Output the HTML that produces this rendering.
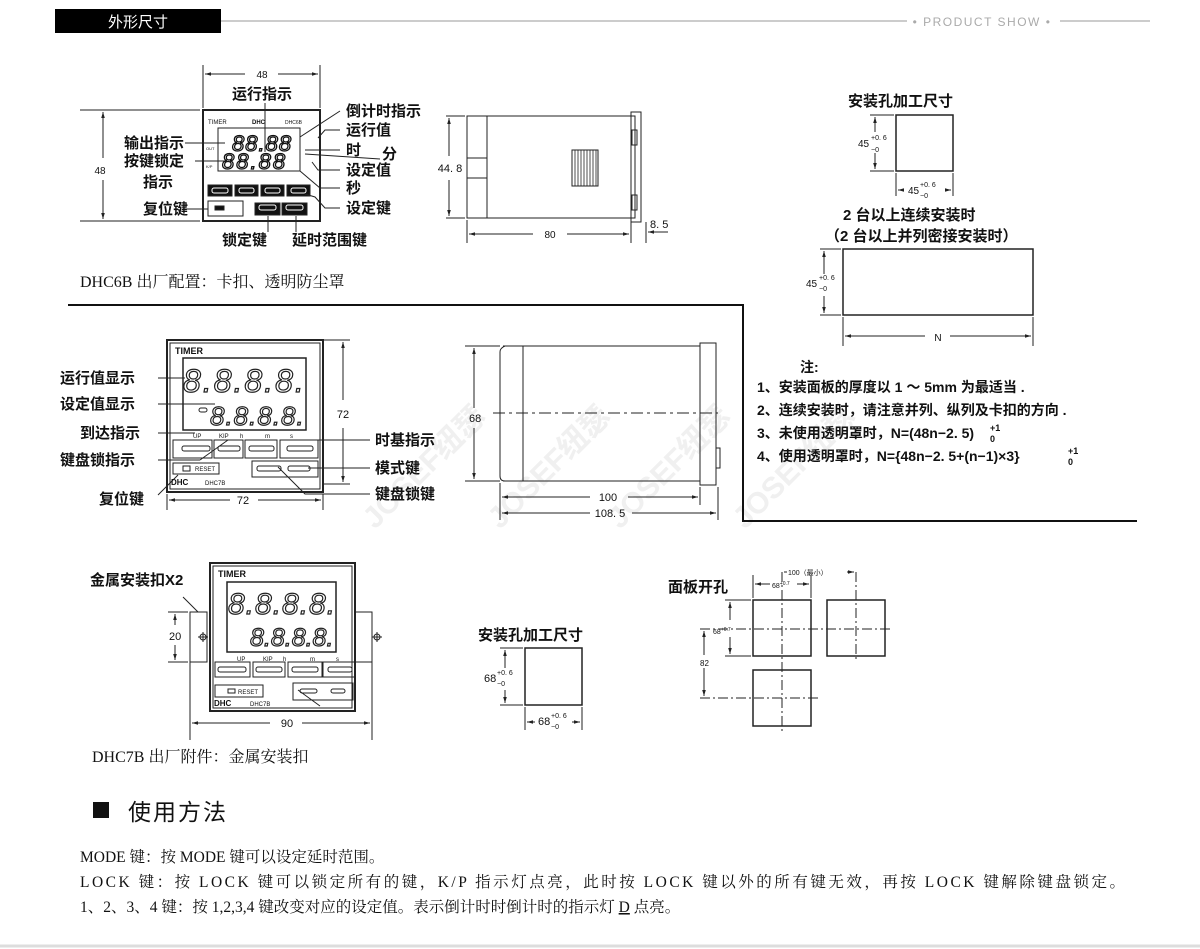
<!DOCTYPE html>
<html><head><meta charset="utf-8"><style>
html,body{margin:0;padding:0;background:#fff;}
svg{display:block;}
.z{font-family:"Liberation Sans","Noto Sans CJK SC",sans-serif;fill:#111;}
.b{font-weight:bold;}
.s{font-family:"Liberation Serif","Noto Serif CJK SC",serif;fill:#111;}
</style></head><body>
<svg width="1200" height="949" viewBox="0 0 1200 949" xmlns="http://www.w3.org/2000/svg">
<defs>
<marker id="a" viewBox="0 0 10 10" refX="10" refY="5" markerWidth="6" markerHeight="6" orient="auto-start-reverse"><path d="M0,2 L10,5 L0,8z" fill="#222"/></marker>
</defs>
<rect x="55" y="9" width="166" height="24" fill="#000"/>
<text x="138" y="27" text-anchor="middle" class="z" style="fill:#fff;font-size:15px">外形尺寸</text>
<line x1="221" y1="21" x2="907" y2="21" stroke="#bbb" stroke-width="1.5"/>
<text x="982" y="26" text-anchor="middle" class="z" style="fill:#aaa;font-size:12px;letter-spacing:1.5px">• PRODUCT SHOW •</text>
<line x1="1060" y1="21" x2="1150" y2="21" stroke="#bbb" stroke-width="1.5"/>

<g class="z" style="fill:#f0f0f0;font-size:30px;font-weight:bold">
<text transform="translate(375,530) rotate(-45)">JOSEF纽瑟</text>
<text transform="translate(500,530) rotate(-45)">JOSEF纽瑟</text>
<text transform="translate(620,530) rotate(-45)">JOSEF纽瑟</text>
<text transform="translate(745,530) rotate(-45)">JOSEF纽瑟</text>
</g>

<g stroke="#222" fill="none" stroke-width="1">
<rect x="203" y="110" width="117" height="111" stroke-width="2"/>
<rect x="218" y="128" width="82" height="43"/>
<line x1="203" y1="65" x2="203" y2="108"/><line x1="320" y1="65" x2="320" y2="108"/>
<line x1="205" y1="74" x2="245" y2="74" marker-start="url(#a)"/><line x1="278" y1="74" x2="318" y2="74" marker-end="url(#a)"/>
<line x1="80" y1="110" x2="200" y2="110"/><line x1="80" y1="221" x2="200" y2="221"/>
<line x1="103" y1="112" x2="103" y2="158" marker-start="url(#a)"/><line x1="103" y1="180" x2="103" y2="219" marker-end="url(#a)"/>
<g fill="#111"><rect x="208" y="185" width="24" height="11"/><rect x="235" y="185" width="23" height="11"/><rect x="261" y="185" width="23" height="11"/><rect x="287" y="185" width="23" height="11"/>
<rect x="255" y="203" width="25" height="12"/><rect x="282" y="203" width="25" height="12"/></g>
<g stroke="#fff"><rect x="212" y="188" width="16" height="5" rx="2"/><rect x="239" y="188" width="15" height="5" rx="2"/><rect x="265" y="188" width="15" height="5" rx="2"/><rect x="291" y="188" width="15" height="5" rx="2"/><rect x="259" y="205" width="17" height="5" rx="2"/><rect x="286" y="205" width="17" height="5" rx="2"/></g>
<rect x="208" y="201" width="35" height="15"/><rect x="215" y="206" width="9" height="4" fill="#111"/>
<line x1="185" y1="143" x2="225" y2="143"/><line x1="195" y1="161" x2="225" y2="161"/><line x1="183" y1="209" x2="208" y2="209"/>
<line x1="265" y1="103" x2="265" y2="152"/>
<path d="M340,111 L300,137"/><path d="M340,130 L325,130 L318,138"/><path d="M340,150 L305,150"/><path d="M380,159 L305,154"/><path d="M340,170 L318,170 L312,162"/><path d="M340,188 L320,188 L300,171"/><path d="M340,208 L325,208 L315,197 L305,194"/>
<line x1="268" y1="216" x2="268" y2="232"/><line x1="296" y1="216" x2="296" y2="232"/>
<rect x="467" y="116" width="168" height="102"/><line x1="487" y1="116" x2="487" y2="218"/><rect x="467" y="158" width="20" height="20"/>
<rect x="631" y="112" width="10" height="110"/><rect x="632" y="130" width="5" height="15"/><rect x="632" y="195" width="5" height="15"/>
<rect x="572" y="150" width="26" height="36" fill="#fff"/>
<g stroke-width="0.8"><line x1="575" y1="150" x2="575" y2="186"/><line x1="578" y1="150" x2="578" y2="186"/><line x1="581" y1="150" x2="581" y2="186"/><line x1="584" y1="150" x2="584" y2="186"/><line x1="587" y1="150" x2="587" y2="186"/><line x1="590" y1="150" x2="590" y2="186"/><line x1="593" y1="150" x2="593" y2="186"/><line x1="596" y1="150" x2="596" y2="186"/></g>
<line x1="446" y1="116" x2="465" y2="116"/><line x1="446" y1="218" x2="465" y2="218"/>
<line x1="449" y1="118" x2="449" y2="156" marker-start="url(#a)"/><line x1="449" y1="180" x2="449" y2="216" marker-end="url(#a)"/>
<line x1="467" y1="220" x2="467" y2="243"/><line x1="631" y1="222" x2="631" y2="243"/><line x1="646" y1="222" x2="646" y2="243"/>
<line x1="469" y1="234" x2="533" y2="234" marker-start="url(#a)"/><line x1="567" y1="234" x2="629" y2="234" marker-end="url(#a)"/>
<line x1="668" y1="232" x2="648" y2="232" marker-end="url(#a)"/>
<rect x="896" y="115" width="57" height="56" stroke-width="1.5"/>
<line x1="870" y1="115" x2="894" y2="115"/><line x1="870" y1="171" x2="894" y2="171"/>
<line x1="875" y1="117" x2="875" y2="132" marker-start="url(#a)"/><line x1="875" y1="153" x2="875" y2="169" marker-end="url(#a)"/>
<line x1="896" y1="173" x2="896" y2="196"/><line x1="953" y1="173" x2="953" y2="196"/>
<line x1="898" y1="190" x2="904" y2="190" marker-start="url(#a)"/><line x1="945" y1="190" x2="951" y2="190" marker-end="url(#a)"/>
<rect x="843" y="249" width="190" height="66" stroke-width="1.5"/>
<line x1="820" y1="249" x2="841" y2="249"/><line x1="820" y1="315" x2="841" y2="315"/>
<line x1="824" y1="251" x2="824" y2="274" marker-start="url(#a)"/><line x1="824" y1="296" x2="824" y2="313" marker-end="url(#a)"/>
<line x1="843" y1="317" x2="843" y2="346"/><line x1="1033" y1="317" x2="1033" y2="346"/>
<line x1="845" y1="336" x2="925" y2="336" marker-start="url(#a)"/><line x1="950" y1="336" x2="1031" y2="336" marker-end="url(#a)"/>
</g>
<path d="M68,305 L743,305 L743,521 L1137,521" stroke="#111" stroke-width="2" fill="none"/>

<g class="z" style="font-size:10px">
<text x="262" y="78" text-anchor="middle">48</text>
<text x="100" y="174" text-anchor="middle">48</text>
<text x="450" y="172" text-anchor="middle" style="font-size:11px">44. 8</text>
<text x="550" y="238" text-anchor="middle">80</text>
<text x="650" y="228" style="font-size:11px">8. 5</text>
<text x="208" y="124" style="font-size:6px">TIMER</text><text x="252" y="124" style="font-size:6px;font-weight:bold">DHC</text><text x="285" y="124" style="font-size:5px">DHC6B</text>
<text x="206" y="150" style="font-size:4px">OUT</text><text x="206" y="168" style="font-size:4px">K/P</text>
</g>
<g class="z" style="font-size:22px;font-style:italic;fill:#fff;stroke:#111;stroke-width:1.3">
<text x="232" y="151" style="letter-spacing:1px">88.88</text><text x="222" y="169" style="letter-spacing:2px">88.88</text>
</g>
<g class="z b" style="font-size:15px">
<text x="262" y="99" text-anchor="middle">运行指示</text>
<text x="346" y="116">倒计时指示</text><text x="346" y="135">运行值</text><text x="346" y="155">时</text><text x="382" y="159">分</text><text x="346" y="175">设定值</text><text x="346" y="193">秒</text><text x="346" y="213">设定键</text>
<text x="124" y="148">输出指示</text><text x="124" y="166">按键锁定</text><text x="143" y="187">指示</text><text x="143" y="214">复位键</text>
<text x="222" y="245">锁定键</text><text x="292" y="245">延时范围键</text>
<text x="848" y="106">安装孔加工尺寸</text>
<text x="843" y="220">2 台以上连续安装时</text>
<text x="825" y="241">（2 台以上并列密接安装时）</text>
</g>
<g class="z" style="font-size:10px">
<text x="858" y="147">45</text><text x="871" y="140" style="font-size:7px">+0. 6</text><text x="871" y="152" style="font-size:7px">−0</text>
<text x="908" y="194">45</text><text x="920" y="187" style="font-size:7px">+0. 6</text><text x="920" y="198" style="font-size:7px">−0</text>
<text x="806" y="287">45</text><text x="819" y="280" style="font-size:7px">+0. 6</text><text x="819" y="291" style="font-size:7px">−0</text>
<text x="938" y="341" text-anchor="middle">N</text>
</g>
<text x="80" y="287" class="s" style="font-size:16px">DHC6B 出厂配置：卡扣、透明防尘罩</text>
<g class="z b" style="font-size:14px">
<text x="800" y="372">注:</text>
<text x="757" y="392">1、安装面板的厚度以 1 ～ 5mm 为最适当 .</text>
<text x="757" y="415">2、连续安装时，请注意并列、纵列及卡扣的方向 .</text>
<text x="757" y="438">3、未使用透明罩时，N=(48n−2. 5)</text><text x="990" y="442" style="font-size:9px">0</text><text x="990" y="431" style="font-size:9px">+1</text>
<text x="757" y="461">4、使用透明罩时，N={48n−2. 5+(n−1)×3}</text><text x="1068" y="465" style="font-size:9px">0</text><text x="1068" y="454" style="font-size:9px">+1</text>
</g>

<g stroke="#222" fill="none" stroke-width="1">
<rect x="167" y="340" width="156" height="152" stroke-width="2"/><rect x="170" y="343" width="150" height="146"/>
<rect x="183" y="358" width="123" height="72" stroke-width="1.5"/>
<rect x="173" y="440" width="39" height="18"/><rect x="214" y="440" width="29" height="18"/><rect x="245" y="440" width="32" height="18"/><rect x="280" y="440" width="38" height="18"/>
<rect x="252" y="461" width="66" height="16"/><rect x="173" y="463" width="46" height="11"/><rect x="183" y="466" width="7" height="5"/>
<rect x="182" y="446" width="28" height="5" rx="2"/><rect x="218" y="446" width="22" height="5" rx="2"/><rect x="249" y="446" width="25" height="5" rx="2"/><rect x="287" y="446" width="26" height="5" rx="2"/>
<rect x="257" y="466" width="24" height="5" rx="2"/><rect x="288" y="466" width="22" height="5" rx="2"/>
<rect x="199" y="408" width="8" height="4" rx="2"/>
<line x1="158" y1="378" x2="185" y2="378"/><line x1="158" y1="404" x2="215" y2="404"/><line x1="158" y1="433" x2="195" y2="433"/><line x1="158" y1="460" x2="200" y2="460"/><path d="M200,460 L228,440"/>
<path d="M158,495 L178,475"/><line x1="308" y1="440" x2="370" y2="440"/><line x1="308" y1="468" x2="370" y2="468"/><path d="M370,494 L305,494 L278,467"/>
<line x1="323" y1="340" x2="350" y2="340"/><line x1="323" y1="484" x2="350" y2="484"/>
<line x1="343" y1="342" x2="343" y2="400" marker-start="url(#a)"/><line x1="343" y1="428" x2="343" y2="482" marker-end="url(#a)"/>
<line x1="167" y1="494" x2="167" y2="510"/><line x1="323" y1="494" x2="323" y2="510"/>
<line x1="169" y1="500" x2="230" y2="500" marker-start="url(#a)"/><line x1="258" y1="500" x2="321" y2="500" marker-end="url(#a)"/>
<path d="M503,346 L700,346 M503,481 L700,481 M505,346 Q500,348 500,352 L500,476 Q500,481 505,481"/><line x1="523" y1="346" x2="523" y2="481"/>
<rect x="700" y="343" width="16" height="142"/><rect x="716" y="448" width="4" height="20"/>
<line x1="493" y1="413" x2="718" y2="413" stroke-dasharray="12,4,3,4"/>
<line x1="465" y1="346" x2="500" y2="346"/><line x1="465" y1="481" x2="500" y2="481"/>
<line x1="474" y1="348" x2="474" y2="408" marker-start="url(#a)"/><line x1="474" y1="428" x2="474" y2="479" marker-end="url(#a)"/>
<line x1="500" y1="483" x2="500" y2="520"/><line x1="700" y1="487" x2="700" y2="505"/><line x1="718" y1="487" x2="718" y2="520"/>
<line x1="502" y1="497" x2="590" y2="497" marker-start="url(#a)"/><line x1="628" y1="497" x2="698" y2="497" marker-end="url(#a)"/>
<line x1="502" y1="513" x2="590" y2="513" marker-start="url(#a)"/><line x1="632" y1="513" x2="716" y2="513" marker-end="url(#a)"/>
</g>
<g class="z" style="font-size:24px;font-style:italic;fill:#fff;stroke:#222;stroke-width:1.2">
<text x="183" y="392" style="font-size:32px;letter-spacing:2px">8.8.8.8.</text>
<text x="210" y="425" style="font-size:26px;letter-spacing:1px">8.8.8.8.</text>
</g>
<g class="z" style="font-size:6px">
<text x="175" y="354" style="font-size:9px;font-weight:bold">TIMER</text>
<text x="193" y="438">UP</text><text x="219" y="438">KIP</text><text x="240" y="438">h</text><text x="265" y="438">m</text><text x="290" y="438">s</text>
<text x="195" y="471">RESET</text><text x="171" y="485" style="font-weight:bold;font-size:8px">DHC</text><text x="205" y="485">DHC7B</text>
</g>
<g class="z b" style="font-size:15px">
<text x="60" y="383">运行值显示</text><text x="60" y="409">设定值显示</text><text x="80" y="438">到达指示</text><text x="60" y="465">键盘锁指示</text><text x="99" y="504">复位键</text>
<text x="375" y="445">时基指示</text><text x="375" y="473">模式键</text><text x="375" y="499">键盘锁键</text>
</g>
<g class="z" style="font-size:11px">
<text x="343" y="418" text-anchor="middle">72</text><text x="243" y="504" text-anchor="middle">72</text>
<text x="469" y="422">68</text><text x="608" y="501" text-anchor="middle">100</text><text x="610" y="517" text-anchor="middle">108. 5</text>
</g>

<g stroke="#222" fill="none" stroke-width="1">
<rect x="190" y="612" width="17" height="50"/><rect x="355" y="612" width="17" height="50"/>
<line x1="190" y1="662" x2="190" y2="740"/><line x1="372" y1="662" x2="372" y2="740"/>
<rect x="210" y="563" width="145" height="148" stroke-width="2"/><rect x="213" y="566" width="139" height="142"/>
<rect x="227" y="582" width="109" height="70" stroke-width="1.5"/>
<rect x="215" y="662" width="35" height="15"/><rect x="253" y="662" width="32" height="15"/><rect x="288" y="662" width="34" height="15"/><rect x="323" y="662" width="32" height="15"/>
<rect x="218" y="667" width="28" height="5" rx="2"/><rect x="256" y="667" width="26" height="5" rx="2"/><rect x="292" y="667" width="26" height="5" rx="2"/><rect x="328" y="667" width="24" height="5" rx="2"/>
<rect x="293" y="683" width="60" height="17"/><rect x="300" y="689" width="17" height="4" rx="2"/><rect x="331" y="689" width="14" height="4" rx="2"/>
<rect x="215" y="685" width="48" height="12"/><rect x="228" y="689" width="7" height="4"/>
<path d="M183,597 L198,612 M298,690 L320,706"/>
<line x1="168" y1="612" x2="188" y2="612"/><line x1="168" y1="662" x2="188" y2="662"/>
<line x1="175" y1="614" x2="175" y2="625" marker-start="url(#a)"/><line x1="175" y1="645" x2="175" y2="660" marker-end="url(#a)"/>
<line x1="192" y1="723" x2="270" y2="723" marker-start="url(#a)"/><line x1="302" y1="723" x2="370" y2="723" marker-end="url(#a)"/>
<circle cx="203" cy="637" r="3"/><path d="M198,637h10M203,632v10"/><circle cx="377" cy="637" r="3"/><path d="M372,637h10M377,632v10"/>
<rect x="525" y="648" width="57" height="57" stroke-width="1.5"/>
<line x1="500" y1="648" x2="523" y2="648"/><line x1="500" y1="705" x2="523" y2="705"/>
<line x1="505" y1="650" x2="505" y2="668" marker-start="url(#a)"/><line x1="505" y1="690" x2="505" y2="703" marker-end="url(#a)"/>
<line x1="525" y1="707" x2="525" y2="730"/><line x1="582" y1="707" x2="582" y2="730"/>
<line x1="527" y1="722" x2="535" y2="722" marker-start="url(#a)"/><line x1="572" y1="722" x2="580" y2="722" marker-end="url(#a)"/>
<rect x="753" y="600" width="58" height="56" stroke-width="1.5"/><rect x="827" y="600" width="58" height="56" stroke-width="1.5"/><rect x="753" y="670" width="58" height="56" stroke-width="1.5"/>
<g stroke-dasharray="10,3,2,3"><line x1="700" y1="629" x2="893" y2="629"/><line x1="700" y1="698" x2="820" y2="698"/><line x1="782" y1="572" x2="782" y2="733"/><line x1="856" y1="572" x2="856" y2="660"/></g>
<line x1="753" y1="575" x2="753" y2="598"/><line x1="811" y1="575" x2="811" y2="598"/>
<line x1="755" y1="584" x2="770" y2="584" marker-start="url(#a)"/><line x1="797" y1="584" x2="809" y2="584" marker-end="url(#a)"/>
<line x1="784" y1="572" x2="787" y2="572"/><line x1="847" y1="572" x2="854" y2="572" marker-end="url(#a)"/>
<line x1="725" y1="600" x2="751" y2="600"/><line x1="725" y1="656" x2="751" y2="656"/>
<line x1="730" y1="602" x2="730" y2="620" marker-start="url(#a)"/><line x1="730" y1="637" x2="730" y2="654" marker-end="url(#a)"/>
<line x1="704" y1="631" x2="704" y2="655" marker-start="url(#a)"/><line x1="704" y1="668" x2="704" y2="696" marker-end="url(#a)"/>
</g>
<g class="z" style="font-size:6px">
<text x="218" y="577" style="font-size:9px;font-weight:bold">TIMER</text>
<text x="237" y="661">UP</text><text x="263" y="661">KIP</text><text x="283" y="661">h</text><text x="310" y="661">m</text><text x="336" y="661">s</text>
<text x="238" y="694">RESET</text><text x="214" y="706" style="font-weight:bold;font-size:8px">DHC</text><text x="250" y="706">DHC7B</text>
</g>
<g class="z" style="font-size:23px;font-style:italic;fill:#fff;stroke:#222;stroke-width:1.2">
<text x="228" y="614" style="font-size:30px;letter-spacing:1px">8.8.8.8.</text>
<text x="250" y="646" style="font-size:25px">8.8.8.8.</text>
</g>
<g class="z" style="font-size:11px">
<text x="169" y="640">20</text><text x="287" y="727" text-anchor="middle">90</text>
<text x="484" y="682">68</text><text x="497" y="675" style="font-size:7px">+0. 6</text><text x="497" y="686" style="font-size:7px">−0</text>
<text x="538" y="725">68</text><text x="551" y="718" style="font-size:7px">+0. 6</text><text x="551" y="729" style="font-size:7px">−0</text>
<text x="772" y="588" style="font-size:7px">68<tspan dy="-3" style="font-size:5px">+0.7</tspan></text>
<text x="788" y="575" style="font-size:7px">100（最小）</text>
<text x="713" y="634" style="font-size:7px">68<tspan dy="-3" style="font-size:5px">+0.7</tspan></text>
<text x="700" y="666" style="font-size:8px">82</text>
</g>
<g class="z b" style="font-size:15px">
<text x="90" y="585">金属安装扣X2</text>
<text x="478" y="640">安装孔加工尺寸</text>
<text x="668" y="592">面板开孔</text>
</g>
<text x="92" y="762" class="s" style="font-size:16px">DHC7B 出厂附件：金属安装扣</text>

<rect x="93" y="802" width="16" height="16" fill="#111"/>
<text x="128" y="820" class="z" style="font-size:23px;letter-spacing:2px">使用方法</text>
<g class="s" style="font-size:15.5px">
<text x="80" y="862">MODE 键：按 MODE 键可以设定延时范围。</text>
<text x="80" y="887" textLength="1045" lengthAdjust="spacing">LOCK 键：按 LOCK 键可以锁定所有的键，K/P 指示灯点亮，此时按 LOCK 键以外的所有键无效，再按 LOCK 键解除键盘锁定。</text>
<text x="80" y="912">1、2、3、4 键：按 1,2,3,4 键改变对应的设定值。表示倒计时时倒计时的指示灯 <tspan text-decoration="underline">D</tspan> 点亮。</text>
</g>
<line x1="0" y1="946" x2="1200" y2="946" stroke="#ddd" stroke-width="3"/>
</svg>
</body></html>
